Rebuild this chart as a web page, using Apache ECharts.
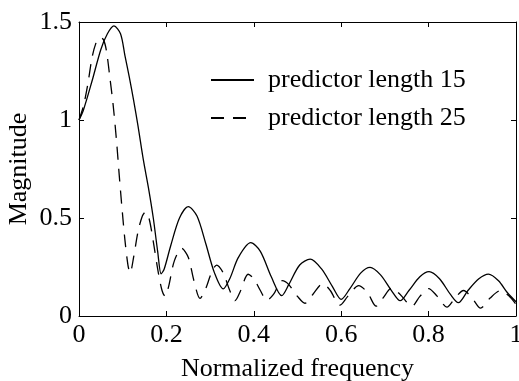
<!DOCTYPE html>
<html>
<head>
<meta charset="utf-8">
<script src="https://cdn.jsdelivr.net/npm/echarts@6/dist/echarts.min.js"></script>
<style>
html,body{margin:0;padding:0;background:#fff;}
#chart{width:519px;height:381px;}
</style>
</head>
<body>
<div id="chart"></div>
<script>
// Normalized frequency / magnitude pairs
const seriesNames = ['predictor length 15', 'predictor length 25'];
const xTicks = [0, 0.2, 0.4, 0.6, 0.8, 1];
const yTicks = [0, 0.5, 1, 1.5];

const freq15 = [0, 0.01, 0.03, 0.05, 0.065, 0.08, 0.095, 0.105, 0.115, 0.125, 0.135, 0.147, 0.16, 0.17, 0.18, 0.188,
  0.195, 0.21, 0.23, 0.25, 0.27, 0.29, 0.31, 0.33, 0.345, 0.365, 0.393, 0.415, 0.44, 0.464, 0.48, 0.505, 0.529,
  0.555, 0.58, 0.6, 0.62, 0.645, 0.666, 0.69, 0.715, 0.735, 0.755, 0.78, 0.801, 0.825, 0.85, 0.868, 0.89, 0.915,
  0.937, 0.96, 0.98, 1.0];
const mag15 = [1.0, 1.05, 1.2, 1.36, 1.44, 1.48, 1.44, 1.33, 1.22, 1.1, 0.97, 0.8, 0.64, 0.5, 0.33, 0.215,
  0.24, 0.36, 0.5, 0.558, 0.51, 0.37, 0.22, 0.138, 0.19, 0.3, 0.374, 0.33, 0.2, 0.104, 0.16, 0.26, 0.29,
  0.24, 0.15, 0.085, 0.14, 0.22, 0.248, 0.21, 0.13, 0.078, 0.13, 0.2, 0.226, 0.19, 0.11, 0.068, 0.13, 0.19,
  0.214, 0.18, 0.12, 0.073];

const freq25 = [0, 0.01, 0.02, 0.03, 0.04, 0.048, 0.056, 0.063, 0.071, 0.078, 0.086, 0.092, 0.098, 0.105, 0.112, 0.117,
  0.125, 0.135, 0.145, 0.152, 0.16, 0.17, 0.18, 0.19, 0.197, 0.205, 0.218, 0.235, 0.25, 0.263, 0.277, 0.29,
  0.303, 0.315, 0.33, 0.345, 0.357, 0.37, 0.387, 0.4, 0.415, 0.43, 0.445, 0.465, 0.48, 0.5, 0.517, 0.535,
  0.558, 0.575, 0.597, 0.615, 0.64, 0.66, 0.68, 0.695, 0.716, 0.735, 0.762, 0.78, 0.8, 0.82, 0.842, 0.86,
  0.88, 0.9, 0.919, 0.94, 0.965, 0.985, 1.0];
const mag25 = [1.0, 1.07, 1.18, 1.32, 1.4, 1.42, 1.41, 1.35, 1.21, 1.08, 0.89, 0.72, 0.56, 0.39, 0.26, 0.22,
  0.3, 0.43, 0.51, 0.53, 0.5, 0.38, 0.24, 0.13, 0.1, 0.15, 0.28, 0.345, 0.3, 0.18, 0.09, 0.14,
  0.22, 0.26, 0.22, 0.13, 0.078, 0.13, 0.213, 0.19, 0.13, 0.08, 0.11, 0.18, 0.16, 0.1, 0.065, 0.11,
  0.165, 0.13, 0.055, 0.1, 0.155, 0.12, 0.05, 0.09, 0.143, 0.11, 0.05, 0.1, 0.14, 0.1, 0.045, 0.09,
  0.13, 0.09, 0.04, 0.09, 0.13, 0.1, 0.06];

const pairs = (xs, ys) => xs.map((x, i) => [x, ys[i]]);

const FONT = 'Liberation Serif';
const chart = echarts.init(document.getElementById('chart'), null, {renderer: 'canvas'});
const tickCommon = {show: true, inside: true, length: 5, lineStyle: {color: '#000', width: 1}};
chart.setOption({
  animation: false,
  backgroundColor: '#fff',
  textStyle: {fontFamily: FONT},
  grid: {left: 79, right: 3, top: 22, bottom: 65, containLabel: false, outerBoundsMode: 'none'},
  legend: {
    orient: 'vertical',
    left: 210,
    top: 67,
    padding: 0,
    itemWidth: 43,
    itemHeight: 14,
    itemGap: 12,
    itemStyle: {opacity: 0},
    data: seriesNames,
    textStyle: {fontFamily: FONT, fontSize: 26, color: '#000', lineHeight: 26, padding: [0, 0, 0, 9]}
  },
  xAxis: [{
    type: 'value', min: 0, max: 1, interval: 0.2, position: 'bottom',
    name: 'Normalized frequency', nameLocation: 'middle', nameGap: 40, nameMoveOverlap: false,
    nameTextStyle: {fontFamily: FONT, fontSize: 26, color: '#000'},
    axisLine: {show: true, onZero: false, lineStyle: {color: '#000', width: 1}},
    axisTick: tickCommon,
    axisLabel: {fontFamily: FONT, fontSize: 26, color: '#000', margin: 6},
    splitLine: {show: false}
  }, {
    type: 'value', min: 0, max: 1, interval: 0.2, position: 'top',
    axisLine: {show: true, onZero: false, lineStyle: {color: '#000', width: 1}},
    axisTick: tickCommon, axisLabel: {show: false}, splitLine: {show: false}
  }],
  yAxis: [{
    type: 'value', min: 0, max: 1.5, interval: 0.5, position: 'left',
    name: 'Magnitude', nameLocation: 'middle', nameGap: 47, nameMoveOverlap: false,
    nameTextStyle: {fontFamily: FONT, fontSize: 26, color: '#000'},
    axisLine: {show: true, onZero: false, lineStyle: {color: '#000', width: 1}},
    axisTick: tickCommon,
    axisLabel: {fontFamily: FONT, fontSize: 26, color: '#000', margin: 7},
    splitLine: {show: false}
  }, {
    type: 'value', min: 0, max: 1.5, interval: 0.5, position: 'right',
    axisLine: {show: true, onZero: false, lineStyle: {color: '#000', width: 1}},
    axisTick: tickCommon, axisLabel: {show: false}, splitLine: {show: false}
  }],
  series: [{
    name: seriesNames[0], type: 'line', xAxisIndex: 0, yAxisIndex: 0,
    data: pairs(freq15, mag15), smooth: 0.3, symbol: 'none', showSymbol: false,
    lineStyle: {color: '#000', width: 1.3, type: 'solid'}, itemStyle: {color: '#000'}
  }, {
    name: seriesNames[1], type: 'line', xAxisIndex: 0, yAxisIndex: 0,
    data: pairs(freq25, mag25), smooth: 0.3, symbol: 'none', showSymbol: false,
    lineStyle: {color: '#000', width: 1.3, type: [13, 9]}, itemStyle: {color: '#000'}
  }]
});
</script>
</body>
</html>
